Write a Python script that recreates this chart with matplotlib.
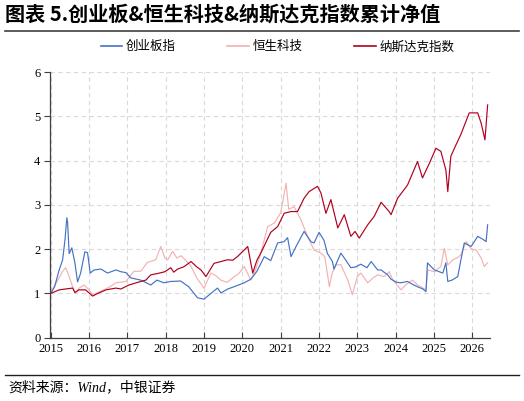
import matplotlib.pyplot as plt
from matplotlib.lines import Line2D

# 创业板指 (年份, 累计净值)
cyb_x = [2015.00, 2015.10, 2015.22, 2015.31, 2015.37, 2015.42, 2015.44, 2015.48, 2015.55, 2015.63,
         2015.70, 2015.78, 2015.89, 2015.96, 2016.03, 2016.13, 2016.31, 2016.48, 2016.70, 2016.83,
         2016.96, 2017.09, 2017.35, 2017.61, 2017.77, 2017.95, 2018.13, 2018.39, 2018.60, 2018.83,
         2019.00, 2019.18, 2019.35, 2019.44, 2019.62, 2019.78, 2020.05, 2020.22, 2020.38, 2020.57,
         2020.74, 2020.92, 2021.09, 2021.18, 2021.27, 2021.40, 2021.61, 2021.79, 2021.87, 2022.00,
         2022.13, 2022.22, 2022.35, 2022.39, 2022.57, 2022.70, 2022.83, 2022.96, 2023.09, 2023.25,
         2023.36, 2023.53, 2023.62, 2023.79, 2023.88, 2024.03, 2024.14, 2024.31, 2024.45, 2024.57,
         2024.71, 2024.79, 2024.83, 2025.01, 2025.23, 2025.31, 2025.36, 2025.47, 2025.62, 2025.70,
         2025.79, 2025.97, 2026.14, 2026.28, 2026.36, 2026.40]
cyb_y = [1.00, 1.15, 1.53, 1.76, 2.20, 2.71, 2.60, 1.90, 2.03, 1.69,
         1.26, 1.46, 1.94, 1.92, 1.46, 1.53, 1.55, 1.46, 1.53, 1.49,
         1.47, 1.35, 1.30, 1.19, 1.30, 1.24, 1.27, 1.28, 1.15, 0.90,
         0.87, 1.00, 1.12, 1.01, 1.10, 1.15, 1.24, 1.32, 1.50, 1.83,
         1.74, 2.14, 2.17, 2.26, 1.83, 2.06, 2.40, 2.17, 2.14, 2.38,
         2.20, 1.90, 1.72, 1.55, 1.91, 1.75, 1.58, 1.60, 1.66, 1.58,
         1.72, 1.53, 1.53, 1.42, 1.32, 1.25, 1.24, 1.27, 1.20, 1.15,
         1.10, 1.04, 1.69, 1.53, 1.46, 1.69, 1.27, 1.30, 1.38, 1.75,
         2.14, 2.06, 2.29, 2.22, 2.17, 2.55]

# 恒生科技
hst_x = [2015.00, 2015.04, 2015.22, 2015.31, 2015.39, 2015.48, 2015.57, 2015.65, 2015.74, 2015.87,
         2016.00, 2016.10, 2016.17, 2016.39, 2016.54, 2016.70, 2016.96, 2017.17, 2017.35, 2017.52,
         2017.74, 2017.87, 2017.98, 2018.05, 2018.18, 2018.29, 2018.40, 2018.52, 2018.66, 2018.81,
         2019.00, 2019.18, 2019.31, 2019.44, 2019.60, 2019.79, 2019.91, 2020.05, 2020.22, 2020.35,
         2020.48, 2020.66, 2020.83, 2021.00, 2021.14, 2021.21, 2021.35, 2021.53, 2021.70, 2021.87,
         2022.05, 2022.15, 2022.27, 2022.34, 2022.44, 2022.57, 2022.75, 2022.87, 2023.00, 2023.09,
         2023.27, 2023.41, 2023.53, 2023.70, 2023.83, 2023.93, 2024.14, 2024.27, 2024.44, 2024.56,
         2024.66, 2024.79, 2024.84, 2025.01, 2025.18, 2025.27, 2025.36, 2025.49, 2025.60, 2025.70,
         2025.84, 2025.97, 2026.10, 2026.23, 2026.31, 2026.40]
hst_y = [1.00, 1.08, 1.35, 1.50, 1.58, 1.38, 1.15, 1.00, 1.12, 1.19,
         1.08, 0.95, 1.00, 1.08, 1.15, 1.24, 1.27, 1.50, 1.50, 1.70,
         1.76, 2.06, 1.80, 1.76, 1.95, 1.80, 1.85, 1.75, 1.61, 1.35,
         1.12, 1.46, 1.40, 1.30, 1.25, 1.38, 1.45, 1.61, 1.30, 1.55,
         1.91, 2.51, 2.59, 2.82, 3.49, 2.90, 2.96, 2.66, 2.29, 1.98,
         1.91, 1.83, 1.15, 1.45, 1.64, 1.65, 1.30, 0.97, 1.38, 1.46,
         1.24, 1.35, 1.42, 1.38, 1.49, 1.30, 1.08, 1.20, 1.30, 1.20,
         1.15, 1.08, 1.53, 1.49, 1.61, 2.02, 1.64, 1.76, 1.80, 1.87,
         2.17, 2.00, 1.98, 1.80, 1.61, 1.69]

# 纳斯达克指数
ndx_x = [2015.00, 2015.22, 2015.39, 2015.57, 2015.63, 2015.73, 2015.91, 2016.09, 2016.23, 2016.44,
         2016.70, 2016.83, 2017.04, 2017.27, 2017.48, 2017.61, 2017.79, 2017.98, 2018.13, 2018.21,
         2018.31, 2018.47, 2018.66, 2018.81, 2018.92, 2019.05, 2019.26, 2019.44, 2019.61, 2019.75,
         2019.87, 2020.14, 2020.27, 2020.38, 2020.48, 2020.64, 2020.74, 2020.92, 2021.09, 2021.27,
         2021.44, 2021.61, 2021.74, 2021.96, 2022.05, 2022.18, 2022.31, 2022.49, 2022.66, 2022.83,
         2022.94, 2023.05, 2023.27, 2023.44, 2023.62, 2023.83, 2023.88, 2024.05, 2024.31, 2024.57,
         2024.70, 2024.88, 2025.05, 2025.18, 2025.31, 2025.36, 2025.44, 2025.57, 2025.70, 2025.92,
         2026.14, 2026.23, 2026.33, 2026.40]
ndx_y = [1.00, 1.08, 1.10, 1.12, 1.02, 1.08, 1.08, 0.94, 1.00, 1.08,
         1.12, 1.10, 1.19, 1.25, 1.30, 1.42, 1.45, 1.49, 1.58, 1.48,
         1.55, 1.60, 1.72, 1.60, 1.53, 1.38, 1.68, 1.72, 1.76, 1.75,
         1.83, 2.06, 1.46, 1.75, 1.91, 2.20, 2.38, 2.51, 2.81, 2.85,
         2.85, 3.15, 3.30, 3.42, 3.27, 2.81, 3.12, 2.48, 2.78, 2.29,
         2.40, 2.25, 2.55, 2.74, 3.06, 2.85, 2.78, 3.15, 3.45, 3.98,
         3.61, 3.94, 4.28, 4.21, 3.79, 3.30, 4.10, 4.35, 4.59, 5.08,
         5.08, 4.85, 4.47, 5.26]

years = list(range(2015, 2027))
names = ['创业板指', '恒生科技', '纳斯达克指数']
colors = ['#4472C4', '#F2B2B2', '#B0001E']

plt.rcParams['font.family'] = ['Noto Sans CJK SC', 'DejaVu Sans']
serif = ['Liberation Serif', 'DejaVu Serif']

fig = plt.figure(figsize=(5.24, 4.01), dpi=100)
ax = fig.add_axes([0.0954, 0.158, 0.8396, 0.662])

ax.plot(hst_x, hst_y, color=colors[1], lw=0.85, zorder=2)
ax.plot(cyb_x, cyb_y, color=colors[0], lw=0.85, zorder=3)
ax.plot(ndx_x, ndx_y, color=colors[2], lw=0.85, zorder=4)

ax.set_xlim(2014.98, 2026.46)
ax.set_ylim(0, 6)
ax.set_xticks(years)
ax.set_xticklabels([str(y) for y in years], family=serif, fontsize=9)
ax.set_yticks(range(7))
ax.set_yticklabels([str(v) for v in range(7)], family=serif, fontsize=9)
ax.grid(True, color='#d9d9d9', ls=(0, (4, 3)), lw=0.8)
ax.set_axisbelow(True)
for s in ['top', 'right']:
    ax.spines[s].set_visible(False)
for s in ['left', 'bottom']:
    ax.spines[s].set_color('#404040')
    ax.spines[s].set_linewidth(0.9)
ax.tick_params(axis='x', direction='in', length=4, color='#404040', pad=4)
ax.tick_params(axis='y', direction='out', length=4, color='#404040', pad=3)

handles = [Line2D([], [], color=c, lw=1.2) for c in colors]
fig.legend(handles, names, loc='center', bbox_to_anchor=(0.53, 0.883), ncol=3,
           frameon=False, prop={'size': 9, 'weight': 'light'}, handlelength=1.75,
           handletextpad=0.3, columnspacing=4.1)

fig.text(0.01, 0.965, '图表 5.创业板&恒生科技&纳斯达克指数累计净值', fontsize=14.5,
         fontweight='bold', va='center', ha='left')
fig.add_artist(Line2D([0.01, 0.99], [0.922, 0.922], color='#404040', lw=1.2))
fig.add_artist(Line2D([0.01, 0.99], [0.065, 0.065], color='#202020', lw=1.0))
fig.text(0.015, 0.033, '资料来源：Wind，中银证券', fontsize=10, style='italic',
         family=['Liberation Serif', 'Noto Sans CJK SC'], va='center', ha='left')

plt.savefig('out.png', dpi=100)
